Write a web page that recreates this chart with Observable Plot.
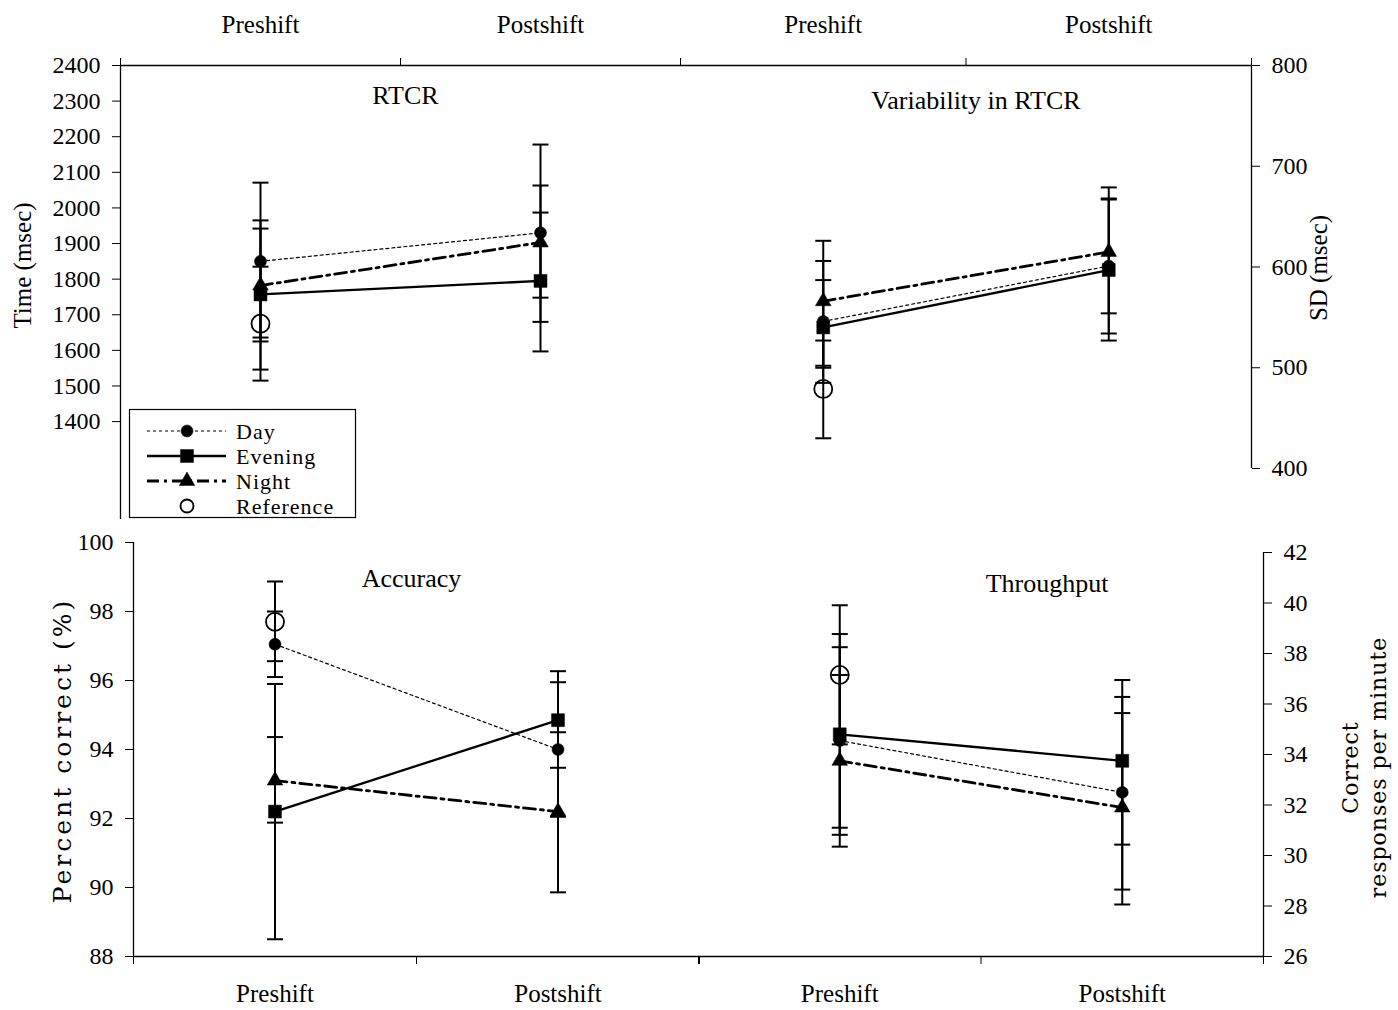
<!DOCTYPE html>
<html><head><meta charset="utf-8">
<script src="https://cdn.jsdelivr.net/npm/d3@7"></script>
<script src="https://cdn.jsdelivr.net/npm/@observablehq/plot@0.6"></script>
<style>
html,body{margin:0;padding:0;background:#fff;}
#chart{position:relative;width:1398px;height:1010px;overflow:hidden;background:#fff;}
#chart svg{position:absolute;overflow:visible;}
</style></head><body><div id="chart"></div>
<script>
// ---------- data ----------
const categories = ["Preshift", "Postshift"];
const seriesNames = ["Day", "Evening", "Night", "Reference"];
const panelTitles = ["RTCR", "Variability in RTCR", "Accuracy", "Throughput"];
const yTitleRTCR = "Time (msec)";
const yTitleSD = "SD (msec)";
const yTitleAccuracy = "Percent correct (%)";
const yTitleThroughput = ["Correct", "responses per minute"];

// [series, phase, mean, lower error, upper error]
const rtcr = [
  ["Day", "Preshift", 1850, 1625, 2071],
  ["Day", "Postshift", 1930, 1680, 2178],
  ["Evening", "Preshift", 1757, 1546, 1965],
  ["Evening", "Postshift", 1795, 1597, 1987],
  ["Night", "Preshift", 1782, 1636, 1942],
  ["Night", "Postshift", 1903, 1748, 2063],
  ["Reference", "Preshift", 1675, 1515, 1835]
];
const rtcrSD = [
  ["Day", "Preshift", 546, 485, 606],
  ["Day", "Postshift", 601, 534, 668],
  ["Evening", "Preshift", 540, 500, 587],
  ["Evening", "Postshift", 597, 527, 667],
  ["Night", "Preshift", 566, 502, 626],
  ["Night", "Postshift", 615, 554, 679],
  ["Reference", "Preshift", 479, 430, 527]
];
const accuracy = [
  ["Day", "Preshift", 97.05, 96.1, 98.0],
  ["Day", "Postshift", 94.0, 92.05, 95.95],
  ["Evening", "Preshift", 92.2, 88.5, 95.9],
  ["Evening", "Postshift", 94.85, 93.47, 96.27],
  ["Night", "Preshift", 93.1, 91.88, 94.36],
  ["Night", "Postshift", 92.2, 89.86, 94.5],
  ["Reference", "Preshift", 97.7, 96.56, 98.87]
];
const throughput = [
  ["Day", "Preshift", 34.55, 31.1, 38.25],
  ["Day", "Postshift", 32.5, 28.65, 36.28],
  ["Evening", "Preshift", 34.8, 30.82, 38.77],
  ["Evening", "Postshift", 33.75, 30.43, 36.95],
  ["Night", "Preshift", 33.75, 30.35, 37.15],
  ["Night", "Postshift", 31.9, 28.06, 35.64],
  ["Reference", "Preshift", 37.15, 34.4, 39.91]
];
const rtcrTicks = [1400, 1500, 1600, 1700, 1800, 1900, 2000, 2100, 2200, 2300, 2400];
const sdTicks = [400, 500, 600, 700, 800];
const accuracyTicks = [88, 90, 92, 94, 96, 98, 100];
const throughputTicks = [26, 28, 30, 32, 34, 36, 38, 40, 42];

// ---------- styles ----------
const serif = "Liberation Serif, Times New Roman, serif";
const seriesStyle = {
  Day: {dash: "3,3", width: 1.2, symbol: "circle", r: 6, fill: "black"},
  Evening: {dash: null, width: 2.3, symbol: "square", r: 7.3, fill: "black"},
  Night: {dash: "12,5,3,5", width: 2.8, symbol: "triangle", r: 5.8, fill: "black"},
  Reference: {dash: null, width: 0, symbol: "circle", r: 9, fill: "none"}
};
const capSymbol = {draw(ctx, size) { const w = Math.sqrt(size / Math.PI); ctx.moveTo(-w, 0); ctx.lineTo(w, 0); }};

function toRows(table) {
  return table.map(([series, phase, mean, lo, hi]) => ({series, phase, x: categories.indexOf(phase) + 0.5, mean, lo, hi}));
}

function panel(cfg) {
  const rows = toRows(cfg.data);
  const marks = [
    Plot.ruleX([cfg.yAxis === "left" ? 0 : 2], {stroke: "black", strokeWidth: 1.3}),
    Plot.ruleY([cfg.xAxis === "top" ? cfg.domain[1] : cfg.domain[0]], {stroke: "black", strokeWidth: 1.3}),
    Plot.ruleX(rows, {x: "x", y1: "lo", y2: "hi", stroke: "black", strokeWidth: 2}),
    Plot.dot(rows, {x: "x", y: "lo", symbol: capSymbol, r: 8, stroke: "black", strokeWidth: 2, fill: "none"}),
    Plot.dot(rows, {x: "x", y: "hi", symbol: capSymbol, r: 8, stroke: "black", strokeWidth: 2, fill: "none"})
  ];
  for (const s of seriesNames) {
    const st = seriesStyle[s];
    if (st.width > 0) {
      marks.push(Plot.line(rows, {filter: d => d.series === s, x: "x", y: "mean", stroke: "black", strokeWidth: st.width, strokeDasharray: st.dash || undefined}));
    }
  }
  for (const s of seriesNames) {
    const st = seriesStyle[s];
    marks.push(Plot.dot(rows, {filter: d => d.series === s, x: "x", y: "mean", symbol: st.symbol, r: st.r,
      fill: st.fill, stroke: "black", strokeWidth: st.fill === "none" ? 1.8 : 0.5}));
  }
  marks.push(Plot.text(categories, {x: (d, i) => i + 0.5, frameAnchor: cfg.xAxis, dy: cfg.catDy,
    text: d => d, fontSize: 25, fontFamily: serif, fill: "black", textAnchor: "middle", lineAnchor: "middle"}));
  marks.push(Plot.text([cfg.title], {frameAnchor: "top", dx: cfg.titleDx, dy: cfg.titleDy, text: d => d,
    fontSize: 26, fontFamily: serif, fill: "black", textAnchor: "middle", lineAnchor: "middle"}));
  cfg.yTitles.forEach((t, i) => {
    marks.push(Plot.text([t], {frameAnchor: cfg.yAxis, rotate: -90, dx: cfg.yTitleDx[i], dy: cfg.yTitleDy, text: d => d,
      fontSize: cfg.yTitleSize, fontFamily: cfg.yTitleFont, fill: "black", textAnchor: "middle", lineAnchor: "middle"}));
  });
  const svg = Plot.plot({
    width: cfg.width, height: cfg.height,
    marginTop: cfg.m[0], marginRight: cfg.m[1], marginBottom: cfg.m[2], marginLeft: cfg.m[3],
    style: {background: "transparent", fontFamily: serif, fontSize: "24px", color: "black", overflow: "visible"},
    x: {domain: [0, 2], ticks: [0, 1, 2], tickFormat: () => "", axis: cfg.xAxis, tickSize: 8, label: null},
    y: {domain: cfg.domain, ticks: cfg.ticks, tickFormat: d => String(d), axis: cfg.yAxis, tickSize: 8, tickPadding: 12, label: null},
    marks
  });
  svg.style.position = "absolute";
  svg.style.left = cfg.left + "px";
  svg.style.top = cfg.top + "px";
  svg.querySelectorAll("text").forEach(t => {
    if (cfg.yTitles.includes(t.textContent)) t.style.letterSpacing = cfg.yTitleSpacing + "px";
  });
  document.getElementById("chart").appendChild(svg);
}

panel({data: rtcr, domain: [1125, 2400], ticks: rtcrTicks, xAxis: "top", yAxis: "left",
  left: 0, top: 0, width: 700, height: 540, m: [65, 20, 21, 120], catDy: -41,
  title: panelTitles[0], titleDx: 5, titleDy: 30,
  yTitles: [yTitleRTCR], yTitleDx: [-98], yTitleDy: -27, yTitleSize: 25, yTitleFont: serif, yTitleSpacing: 0});

panel({data: rtcrSD, domain: [400, 800], ticks: sdTicks, xAxis: "top", yAxis: "right",
  left: 680, top: 0, width: 718, height: 480, m: [65, 147, 12, 0], catDy: -41,
  title: panelTitles[1], titleDx: 10, titleDy: 35,
  yTitles: [yTitleSD], yTitleDx: [67], yTitleDy: 1, yTitleSize: 25, yTitleFont: serif, yTitleSpacing: 0});

panel({data: accuracy, domain: [88, 100], ticks: accuracyTicks, xAxis: "bottom", yAxis: "left",
  left: 0, top: 500, width: 710, height: 510, m: [42, 11, 54, 133], catDy: 37,
  title: panelTitles[2], titleDx: -5, titleDy: 36,
  yTitles: [yTitleAccuracy], yTitleDx: [-71], yTitleDy: 1, yTitleSize: 25, yTitleFont: "DejaVu Serif, serif", yTitleSpacing: 3});

panel({data: throughput, domain: [26, 42], ticks: throughputTicks, xAxis: "bottom", yAxis: "right",
  left: 698, top: 500, width: 700, height: 510, m: [52, 135, 54, 0], catDy: 37,
  title: panelTitles[3], titleDx: 66, titleDy: 31,
  yTitles: yTitleThroughput, yTitleDx: [87, 115], yTitleDy: 13, yTitleSize: 22, yTitleFont: "DejaVu Serif, serif", yTitleSpacing: 1});

// ---------- legend ----------
const legend = d3.select("#chart").append("svg")
  .attr("width", 228).attr("height", 110)
  .style("left", "129px").style("top", "409px");
legend.append("rect").attr("x", 0.5).attr("y", 0.5).attr("width", 226).attr("height", 108)
  .attr("fill", "white").attr("stroke", "black").attr("stroke-width", 1.2);
const symbolTypes = {circle: d3.symbolCircle, square: d3.symbolSquare, triangle: d3.symbolTriangle};
seriesNames.forEach((s, i) => {
  const st = seriesStyle[s];
  const y = 22 + i * 25;
  const g = legend.append("g").attr("transform", `translate(0,${y})`);
  if (st.width > 0) {
    g.append("line").attr("x1", 18).attr("x2", 97).attr("y1", 0).attr("y2", 0)
      .attr("stroke", "black").attr("stroke-width", st.width).attr("stroke-dasharray", st.dash);
  }
  const r = s === "Reference" ? 6.5 : st.r;
  g.append("path").attr("transform", "translate(58,0)")
    .attr("d", d3.symbol(symbolTypes[st.symbol], Math.PI * r * r)())
    .attr("fill", st.fill).attr("stroke", "black").attr("stroke-width", st.fill === "none" ? 1.8 : 0.5);
  g.append("text").attr("x", 107).attr("y", 0).attr("dy", "0.35em")
    .attr("font-family", serif).attr("font-size", 22).attr("letter-spacing", 1).text(s);
});
</script></body></html>
